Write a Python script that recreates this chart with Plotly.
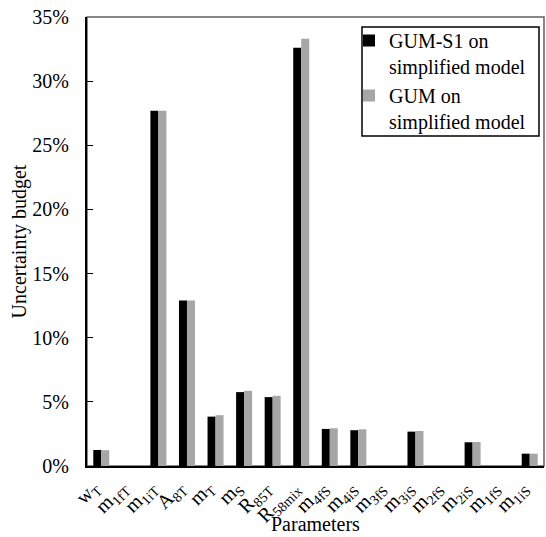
import plotly.graph_objects as go

categories = ["w<sub>T</sub>", "m<sub>1fT</sub>", "m<sub>1iT</sub>", "A<sub>8T</sub>", "m<sub>T</sub>",
              "m<sub>S</sub>", "R<sub>85T</sub>", "R<sub>58mix</sub>", "m<sub>4fS</sub>", "m<sub>4iS</sub>",
              "m<sub>3fS</sub>", "m<sub>3iS</sub>", "m<sub>2fS</sub>", "m<sub>2iS</sub>", "m<sub>1fS</sub>",
              "m<sub>1iS</sub>"]
gum_s1 = [0.0125, 0.0, 0.277, 0.129, 0.0385, 0.0576, 0.0537, 0.326, 0.0289, 0.0279,
          0.0, 0.0268, 0.0, 0.0185, 0.0, 0.0096]
gum = [0.0123, 0.0, 0.277, 0.129, 0.0396, 0.0586, 0.0547, 0.333, 0.0294, 0.0286,
       0.0, 0.0273, 0.0, 0.0187, 0.0, 0.0096]
series_names = ["GUM-S1 on<br>simplified model", "GUM on<br>simplified model"]
y_ticks = [0, 0.05, 0.10, 0.15, 0.20, 0.25, 0.30, 0.35]
x_title = "Parameters"
y_title = "Uncertainty budget"

FONT = "Liberation Serif, Times New Roman, serif"
W, H = 546, 537
L, R, T, B = 87, 2, 17, 71
PW, PH = W - L - R, H - T - B


def px_x(x):
    return (x - L) / PW


def px_y(y):
    return (H - B - y) / PH


fig = go.Figure()
fig.add_trace(go.Bar(x=categories, y=gum_s1, name=series_names[0], marker=dict(color="#000000", line_width=0)))
fig.add_trace(go.Bar(x=categories, y=gum, name=series_names[1], marker=dict(color="#a6a6a6", line_width=0)))

fig.update_layout(
    width=W, height=H,
    margin=dict(l=L, r=R, t=T, b=B, autoexpand=False),
    paper_bgcolor="white", plot_bgcolor="white",
    font=dict(family=FONT, size=20, color="black"),
    barmode="group", bargap=0.44, bargroupgap=0,
    legend=dict(x=px_x(349), y=px_y(21), xanchor="left", yanchor="top",
                borderwidth=0, bgcolor="rgba(0,0,0,0)",
                font=dict(family=FONT, size=20, color="black"),
                valign="top", itemwidth=30),
    shapes=[
        dict(type="rect", xref="paper", yref="paper", x0=0, y0=0, x1=1, y1=1,
             line=dict(color="#606060", width=1.5), layer="below"),
        dict(type="rect", xref="paper", yref="paper", x0=px_x(362), y0=px_y(136), x1=px_x(539), y1=px_y(27),
             line=dict(color="black", width=1.5), fillcolor="white", layer="below"),
    ],
    annotations=[
        dict(text=x_title, xref="paper", yref="paper", x=0.5, y=px_y(524), xanchor="center", yanchor="middle",
             showarrow=False, font=dict(family=FONT, size=20, color="black")),
    ],
)
fig.update_xaxes(
    showline=True, linecolor="black", linewidth=2, ticks="", tickangle=-45, automargin=False,
    tickfont=dict(family=FONT, size=20, color="black"), ticklabelshift=-8,
    showgrid=False,
)
fig.update_yaxes(
    range=[0, 0.35], tickvals=y_ticks, tickformat=".0%", automargin=False,
    showline=True, linecolor="black", linewidth=2, ticks="inside", ticklen=6, tickcolor="black",
    tickfont=dict(family=FONT, size=20, color="black"), ticklabelstandoff=12,
    title=dict(text=y_title, font=dict(family=FONT, size=20, color="black"), standoff=0),
    showgrid=False, zeroline=False,
)

fig.write_html("out.html", config={"displayModeBar": False},
               post_script="document.body.style.margin='0';document.body.style.overflow='hidden';")
